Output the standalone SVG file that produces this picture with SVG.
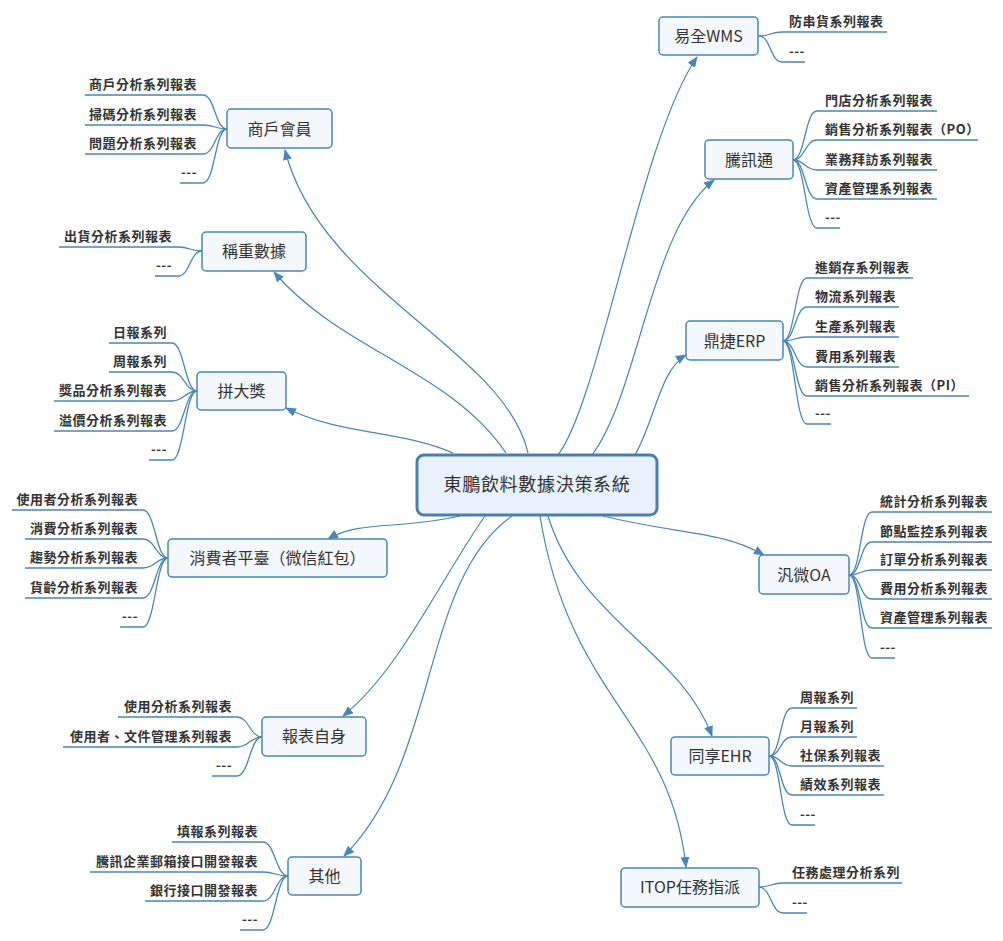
<svg xmlns="http://www.w3.org/2000/svg" width="1003" height="941" viewBox="0 0 1003 941">
<style>
.bg{fill:#ffffff}
.box{fill:#f4f8fd;stroke:#4a86b8;stroke-width:1.5}
.cbox{fill:#e9f1fa;stroke:#4a80ad;stroke-width:3}
.lbl{font-family:"Noto Sans CJK TC","Noto Sans CJK SC",sans-serif;font-size:16px;fill:#333333;text-anchor:middle}
.clbl{font-size:18px;letter-spacing:0.7px}
.conn path{fill:none;stroke:#4a86b8;stroke-width:1.2}
.br path{fill:none;stroke:#4a86b8;stroke-width:1.3}
.leaf{font-family:"Noto Sans CJK TC","Noto Sans CJK SC",sans-serif;font-size:13px;font-weight:bold;fill:#333333;letter-spacing:0.5px;text-anchor:start}
text.le{text-anchor:end}
</style>
<defs>
<marker id="arr" markerUnits="userSpaceOnUse" markerWidth="11" markerHeight="9" refX="10" refY="4.5" orient="auto">
<path d="M0,0 L11,4.5 L0,9 z" fill="#4a86b8"/>
</marker>
</defs>
<rect class="bg" x="0" y="0" width="1003" height="941"/>

<g id="connectors" class="conn">
<path d="M558 455 C600 400,640 140,697 57" marker-end="url(#arr)"/>
<path d="M592 455 C640 390,650 230,714 180" marker-end="url(#arr)"/>
<path d="M635 455 C655 420,660 370,686 355" marker-end="url(#arr)"/>
<path d="M603 516 C680 535,720 530,764 555" marker-end="url(#arr)"/>
<path d="M548 516 C580 620,680 650,712 736" marker-end="url(#arr)"/>
<path d="M540 516 C570 700,670 720,686 867" marker-end="url(#arr)"/>
<path d="M528 453 C505 350,320 290,285 150" marker-end="url(#arr)"/>
<path d="M506 453 C450 370,340 350,274 272" marker-end="url(#arr)"/>
<path d="M453 453 C400 430,340 435,286 408" marker-end="url(#arr)"/>
<path d="M460 516 C400 530,360 520,328 539" marker-end="url(#arr)"/>
<path d="M485 516 C440 580,400 670,343 716" marker-end="url(#arr)"/>
<path d="M512 516 C420 580,440 760,344 856" marker-end="url(#arr)"/>
</g>

<g id="center">
<rect class="cbox" x="417" y="455" width="240" height="60" rx="7"/>
<text class="lbl clbl" x="537" y="491">東鵬飲料數據決策系統</text>
</g>

<g id="n-wms">
<rect class="box" x="659" y="17" width="99" height="38" rx="4"/>
<text class="lbl" x="708.5" y="42">易全WMS</text>
<g class="br">
<path d="M759 36 C771 36,770 32,782 32 H887"/>
<path d="M759 36 C771 36,770 62,782 62 H805"/>
</g>
<text class="leaf" x="789" y="26">防串貨系列報表</text>
<text class="leaf" x="789" y="56">---</text>
</g>

<g id="n-txt">
<rect class="box" x="705" y="140" width="88" height="39" rx="4"/>
<text class="lbl" x="749" y="166">騰訊通</text>
<g class="br">
<path d="M793 160 C805 160,805 111,817 111 H937"/>
<path d="M793 160 C805 160,805 140,817 140 H978"/>
<path d="M793 160 C805 160,805 170,817 170 H937"/>
<path d="M793 160 C805 160,805 199,817 199 H937"/>
<path d="M793 160 C805 160,805 228,817 228 H840"/>
</g>
<text class="leaf" x="825" y="105">門店分析系列報表</text>
<text class="leaf" x="825" y="134">銷售分析系列報表（PO）</text>
<text class="leaf" x="825" y="164">業務拜訪系列報表</text>
<text class="leaf" x="825" y="193">資產管理系列報表</text>
<text class="leaf" x="825" y="222">---</text>
</g>

<g id="n-erp">
<rect class="box" x="686" y="321" width="97" height="39" rx="4"/>
<text class="lbl" x="734.5" y="347">鼎捷ERP</text>
<g class="br">
<path d="M783 341 C795 341,795 278,807 278 H913"/>
<path d="M783 341 C795 341,795 307,807 307 H899"/>
<path d="M783 341 C795 341,795 337,807 337 H899"/>
<path d="M783 341 C795 341,795 367,807 367 H899"/>
<path d="M783 341 C795 341,795 396,807 396 H969"/>
<path d="M783 341 C795 341,795 424,807 424 H831"/>
</g>
<text class="leaf" x="815" y="272">進銷存系列報表</text>
<text class="leaf" x="815" y="301">物流系列報表</text>
<text class="leaf" x="815" y="331">生產系列報表</text>
<text class="leaf" x="815" y="361">費用系列報表</text>
<text class="leaf" x="815" y="390">銷售分析系列報表（PI）</text>
<text class="leaf" x="815" y="418">---</text>
</g>

<g id="n-oa">
<rect class="box" x="759" y="555" width="90" height="39" rx="4"/>
<text class="lbl" x="804" y="581">汎微OA</text>
<g class="br">
<path d="M849 575 C861 575,860 512,872 512 H992"/>
<path d="M849 575 C861 575,860 542,872 542 H992"/>
<path d="M849 575 C861 575,860 570,872 570 H992"/>
<path d="M849 575 C861 575,860 599,872 599 H992"/>
<path d="M849 575 C861 575,860 628,872 628 H992"/>
<path d="M849 575 C861 575,860 658,872 658 H895"/>
</g>
<text class="leaf" x="880" y="506">統計分析系列報表</text>
<text class="leaf" x="880" y="536">節點監控系列報表</text>
<text class="leaf" x="880" y="564">訂單分析系列報表</text>
<text class="leaf" x="880" y="593">費用分析系列報表</text>
<text class="leaf" x="880" y="622">資產管理系列報表</text>
<text class="leaf" x="880" y="652">---</text>
</g>

<g id="n-ehr">
<rect class="box" x="671" y="737" width="98" height="38" rx="4"/>
<text class="lbl" x="720" y="762">同享EHR</text>
<g class="br">
<path d="M769 756 C781 756,780 708,792 708 H857"/>
<path d="M769 756 C781 756,780 737,792 737 H857"/>
<path d="M769 756 C781 756,780 766,792 766 H884"/>
<path d="M769 756 C781 756,780 795,792 795 H884"/>
<path d="M769 756 C781 756,780 825,792 825 H815"/>
</g>
<text class="leaf" x="800" y="702">周報系列</text>
<text class="leaf" x="800" y="731">月報系列</text>
<text class="leaf" x="800" y="760">社保系列報表</text>
<text class="leaf" x="800" y="789">績效系列報表</text>
<text class="leaf" x="800" y="819">---</text>
</g>

<g id="n-itop">
<rect class="box" x="621" y="868" width="138" height="39" rx="4"/>
<text class="lbl" x="690" y="893">ITOP任務指派</text>
<g class="br">
<path d="M759 887 C771 887,771 883,783 883 H902"/>
<path d="M759 887 C771 887,771 913,783 913 H807"/>
</g>
<text class="leaf" x="792" y="877">任務處理分析系列</text>
<text class="leaf" x="792" y="907">---</text>
</g>

<g id="n-member">
<rect class="box" x="227" y="109" width="105" height="39" rx="4"/>
<text class="lbl" x="279.5" y="135">商戶會員</text>
<g class="br">
<path d="M227 129 C215 129,215 95,203 95 H85"/>
<path d="M227 129 C215 129,215 125,203 125 H85"/>
<path d="M227 129 C215 129,215 154,203 154 H85"/>
<path d="M227 129 C215 129,215 183,203 183 H180"/>
</g>
<text class="leaf le" x="197" y="89">商戶分析系列報表</text>
<text class="leaf le" x="197" y="119">掃碼分析系列報表</text>
<text class="leaf le" x="197" y="148">問題分析系列報表</text>
<text class="leaf le" x="197" y="177">---</text>
</g>

<g id="n-weigh">
<rect class="box" x="202" y="232" width="104" height="39" rx="4"/>
<text class="lbl" x="254" y="257">稱重數據</text>
<g class="br">
<path d="M202 251 C190 251,190 247,178 247 H59"/>
<path d="M202 251 C190 251,190 276,178 276 H155"/>
</g>
<text class="leaf le" x="172" y="241">出貨分析系列報表</text>
<text class="leaf le" x="172" y="270">---</text>
</g>

<g id="n-prize">
<rect class="box" x="197" y="372" width="89" height="38" rx="4"/>
<text class="lbl" x="241.5" y="397">拼大獎</text>
<g class="br">
<path d="M197 391 C185 391,184 343,172 343 H109"/>
<path d="M197 391 C185 391,184 372,172 372 H109"/>
<path d="M197 391 C185 391,184 401,172 401 H54"/>
<path d="M197 391 C185 391,184 431,172 431 H54"/>
<path d="M197 391 C185 391,184 460,172 460 H149"/>
</g>
<text class="leaf le" x="167" y="337">日報系列</text>
<text class="leaf le" x="167" y="366">周報系列</text>
<text class="leaf le" x="167" y="395">獎品分析系列報表</text>
<text class="leaf le" x="167" y="425">溢價分析系列報表</text>
<text class="leaf le" x="167" y="454">---</text>
</g>

<g id="n-consumer">
<rect class="box" x="168" y="539" width="219" height="38" rx="4"/>
<text class="lbl" x="277.5" y="564">消費者平臺（微信紅包）</text>
<g class="br">
<path d="M168 558 C156 558,155 510,143 510 H12"/>
<path d="M168 558 C156 558,155 539,143 539 H25"/>
<path d="M168 558 C156 558,155 568,143 568 H25"/>
<path d="M168 558 C156 558,155 598,143 598 H25"/>
<path d="M168 558 C156 558,155 627,143 627 H120"/>
</g>
<text class="leaf le" x="138" y="504">使用者分析系列報表</text>
<text class="leaf le" x="138" y="533">消費分析系列報表</text>
<text class="leaf le" x="138" y="562">趨勢分析系列報表</text>
<text class="leaf le" x="138" y="592">貨齡分析系列報表</text>
<text class="leaf le" x="138" y="621">---</text>
</g>

<g id="n-self">
<rect class="box" x="262" y="717" width="104" height="39" rx="4"/>
<text class="lbl" x="314" y="742">報表自身</text>
<g class="br">
<path d="M262 737 C250 737,249 717,237 717 H118"/>
<path d="M262 737 C250 737,249 747,237 747 H63"/>
<path d="M262 737 C250 737,249 776,237 776 H212"/>
</g>
<text class="leaf le" x="232" y="711">使用分析系列報表</text>
<text class="leaf le" x="232" y="741">使用者、文件管理系列報表</text>
<text class="leaf le" x="232" y="770">---</text>
</g>

<g id="n-other">
<rect class="box" x="288" y="857" width="73" height="38" rx="4"/>
<text class="lbl" x="324.5" y="882">其他</text>
<g class="br">
<path d="M288 876 C276 876,275 842,263 842 H172"/>
<path d="M288 876 C276 876,275 872,263 872 H90"/>
<path d="M288 876 C276 876,275 901,263 901 H145"/>
<path d="M288 876 C276 876,275 930,263 930 H240"/>
</g>
<text class="leaf le" x="258" y="836">填報系列報表</text>
<text class="leaf le" x="258" y="866">騰訊企業郵箱接口開發報表</text>
<text class="leaf le" x="258" y="895">銀行接口開發報表</text>
<text class="leaf le" x="258" y="924">---</text>
</g>
</svg>
